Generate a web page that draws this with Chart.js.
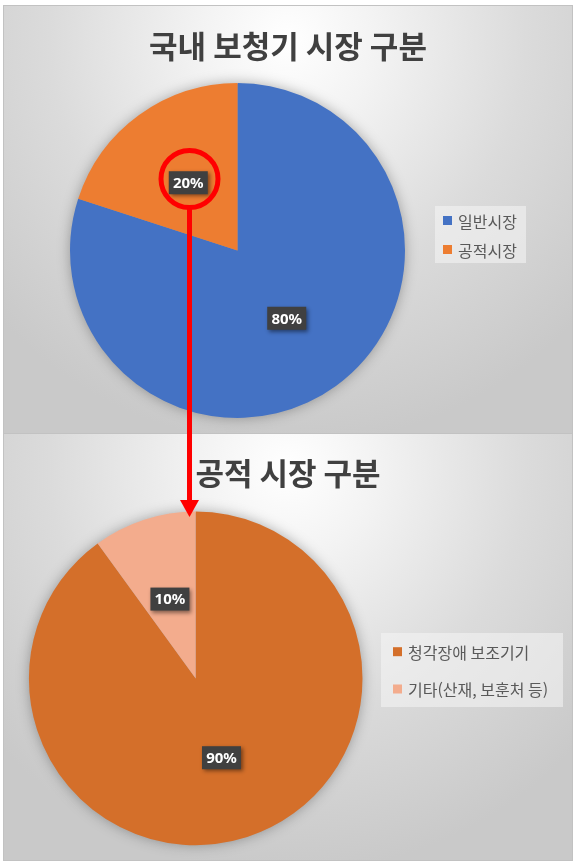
<!DOCTYPE html>
<html lang="ko">
<head>
<meta charset="utf-8">
<script src="https://cdn.jsdelivr.net/npm/chart.js@4.4.1/dist/chart.umd.min.js"></script>
<style>
html,body{margin:0;padding:0;background:#fff;}
body{position:relative;width:576px;height:867px;overflow:hidden;}
canvas.panel{position:absolute;left:4px;outline:1px solid #c2c2c2;}
#topChart{top:6px;background:radial-gradient(ellipse 70% 95% at 50% 8%,#ffffff 0%,#f3f3f3 22%,#dbdbdb 60%,#c9c9c9 100%);}
#bottomChart{top:434px;background:radial-gradient(ellipse 70% 95% at 50% 8%,#ffffff 0%,#f3f3f3 22%,#dbdbdb 60%,#c9c9c9 100%);}
#marker{position:absolute;left:0;top:0;pointer-events:none;}
</style>
</head>
<body>
<canvas id="topChart" class="panel" width="568" height="427"></canvas>
<canvas id="bottomChart" class="panel" width="568" height="426"></canvas>
<svg id="marker" width="576" height="867">
  <circle cx="189.5" cy="179" r="28.5" fill="none" stroke="#ff0000" stroke-width="5"/>
  <line x1="189.5" y1="207" x2="189.5" y2="502" stroke="#ff0000" stroke-width="5"/>
  <polygon points="180,500 199,500 189.5,517" fill="#ff0000"/>
</svg>
<script>
// --- data ---
const topLabels = ["일반시장", "공적시장"];
const topValues = [80, 20];
const topColors = ["#4472C4", "#ED7D31"];

const bottomLabels = ["청각장애 보조기기", "기타(산재, 보훈처 등)"];
const bottomValues = [90, 10];
const bottomColors = ["#D46F2A", "#F3AC8D"];

// --- title, legend, data label boxes, pie shadow ---
const panelPlugin = {
  id: "panel",
  beforeDatasetsDraw(chart){
    const arc = chart.getDatasetMeta(0).data[0];
    if(!arc) return;
    const ctx = chart.ctx;
    ctx.save();
    ctx.shadowColor = "rgba(0,0,0,0.35)";
    ctx.shadowBlur = 14;
    ctx.fillStyle = "#999";
    ctx.beginPath();
    ctx.arc(arc.x, arc.y, arc.outerRadius - 1, 0, Math.PI*2);
    ctx.fill();
    ctx.restore();
  },
  afterDraw(chart, args, opts){
    const ctx = chart.ctx;
    const ds = chart.data.datasets[0];
    const total = ds.data.reduce((s,v)=>s+v,0);
    ctx.save();
    // title
    ctx.fillStyle = "#404040";
    ctx.font = 'bold 31px "Noto Sans CJK KR"';
    ctx.textAlign = "center";
    ctx.textBaseline = "middle";
    ctx.fillText(opts.title, chart.width/2, opts.titleY);
    // legend
    const lb = opts.legendBox;
    ctx.fillStyle = "rgba(245,245,245,0.55)";
    ctx.fillRect(lb.x, lb.y, lb.w, lb.h);
    ctx.font = '16px "Noto Sans CJK KR"';
    ctx.textAlign = "left";
    chart.data.labels.forEach((lab,i)=>{
      const y = opts.legendY[i];
      ctx.fillStyle = ds.backgroundColor[i];
      ctx.fillRect(opts.legendX, y-4.5, 9, 9);
      ctx.fillStyle = "#595959";
      ctx.fillText(lab, opts.legendX+15, y+1);
    });
    // data labels
    chart.getDatasetMeta(0).data.forEach((el,i)=>{
      const p = el.tooltipPosition();
      const txt = Math.round(ds.data[i]/total*100) + "%";
      ctx.save();
      ctx.shadowColor = "rgba(0,0,0,0.45)";
      ctx.shadowBlur = 4;
      ctx.shadowOffsetX = 2;
      ctx.shadowOffsetY = 2;
      ctx.fillStyle = "#404040";
      ctx.fillRect(p.x-19.5, p.y-11.5, 39, 23);
      ctx.restore();
      ctx.fillStyle = "#fff";
      ctx.font = 'bold 15px "Noto Sans"';
      ctx.textAlign = "center";
      ctx.fillText(txt, p.x, p.y+1);
    });
    ctx.restore();
  }
};

function makePie(id, labels, values, colors, padding, panel){
  return new Chart(document.getElementById(id), {
    type: "pie",
    data: { labels, datasets: [{ data: values, backgroundColor: colors, borderWidth: 0 }] },
    options: {
      responsive: false,
      animation: false,
      events: [],
      layout: { padding },
      plugins: { legend: { display: false }, tooltip: { enabled: false }, title: { display: false }, panel }
    },
    plugins: [panelPlugin]
  });
}

makePie("topChart", topLabels, topValues, topColors,
  { top: 77, bottom: 15, left: 20, right: 121 },
  { title: "국내 보청기 시장 구분", titleY: 40,
    legendBox: { x: 431, y: 200, w: 91, h: 57 }, legendX: 439, legendY: [214.5, 243.5] });

makePie("bottomChart", bottomLabels, bottomValues, bottomColors,
  { top: 77.6, bottom: 14.8, left: 20, right: 204.6 },
  { title: "공적 시장 구분", titleY: 39,
    legendBox: { x: 377, y: 199, w: 182, h: 74 }, legendX: 389, legendY: [217.7, 255] });
</script>
</body>
</html>
